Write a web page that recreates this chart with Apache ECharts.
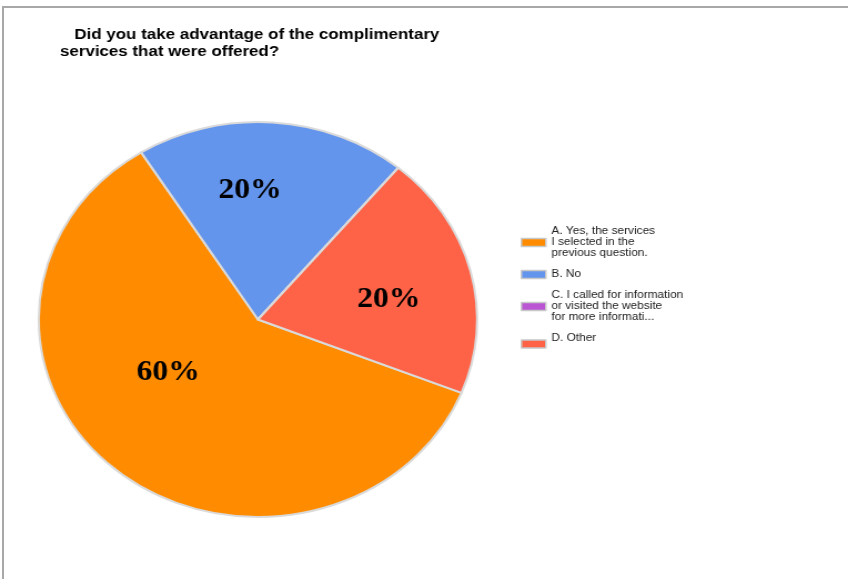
<!DOCTYPE html>
<html>
<head>
<meta charset="utf-8">
<script src="https://cdn.jsdelivr.net/npm/echarts@6/dist/echarts.min.js"></script>
<style>
  html, body { margin: 0; padding: 0; background: #fff; }
  body { width: 848px; height: 579px; overflow: hidden; position: relative; }
  #frame {
    position: absolute; left: 2px; top: 6px; right: -4px; bottom: -4px;
    border-top: 2px solid #a8a8a8; border-left: 2px solid #a8a8a8;
  }
  /* the survey chart is laid out on a narrower page and widened to fill the frame */
  #chart {
    position: absolute; left: 0; top: 0;
    width: 764px; height: 579px;
    transform: scaleX(1.11); transform-origin: 0 0;
  }
</style>
</head>
<body>
<div id="frame"></div>
<div id="chart"></div>
<script>
// Survey answers
const titleLines = [
  'Did you take advantage of the complimentary',
  'services that were offered?'
];
const categories = [
  'A. Yes, the services\nI selected in the\nprevious question.',
  'B. No',
  'C. I called for information\nor visited the website\nfor more informati...',
  'D. Other\n'
];
const shares = [60, 20, 0, 20];
const sliceColors = ['#FF8C00', '#6495ED', '#BA55D3', '#FF6347'];

// pie geometry (pre-widening coordinates)
const CX = 232.4, CY = 319.5, R = 197.5;
// per-slice label placement: angular nudge (deg) and distance as fraction of radius
const labelNudge = [16.8, -7, 0, 4.4];
const labelDist = [0.49, 0.655, 0.5, 0.605];

const chart = echarts.init(document.getElementById('chart'), null, {
  renderer: 'canvas', width: 764, height: 579
});

const titleStyle = { fontFamily: 'Liberation Sans', fontSize: 15.25, fontWeight: 'bold', color: '#000', lineHeight: 18 };

chart.setOption({
  animation: false,
  backgroundColor: 'transparent',
  title: [
    { text: titleLines[0], left: 67, top: 25.5, padding: 0, textStyle: titleStyle },
    { text: titleLines[1], left: 54, top: 43, padding: 0, textStyle: titleStyle }
  ],
  legend: {
    orient: 'vertical', left: 469, top: 226, padding: 0,
    itemGap: 10, itemWidth: 22, itemHeight: 8, icon: 'rect',
    selectedMode: false,
    itemStyle: { borderColor: '#c8c8c8', borderWidth: 1.5 },
    textStyle: { fontFamily: 'Liberation Sans', fontSize: 10.7, lineHeight: 11, color: '#222' },
    data: categories
  },
  series: [{
    type: 'pie',
    center: [CX, CY],
    radius: R,
    startAngle: -21.8,
    clockwise: true,
    silent: true,
    avoidLabelOverlap: false,
    color: sliceColors,
    itemStyle: { borderColor: '#dadada', borderWidth: 2 },
    label: {
      show: true, position: 'inside',
      formatter: p => (p.value ? p.percent + '%' : ''),
      fontFamily: 'Liberation Serif', fontWeight: 'bold', fontSize: 28.5, color: '#000'
    },
    labelLine: { show: false },
    labelLayout: function (params) {
      const i = params.dataIndex;
      const lr = params.labelRect;
      const dx = lr.x + lr.width / 2 - CX;
      const dy = lr.y + lr.height / 2 - CY;
      const ang = Math.atan2(dx, -dy) + labelNudge[i] * Math.PI / 180;
      const d = labelDist[i] * R;
      return { x: CX + d * Math.sin(ang), y: CY - d * Math.cos(ang) };
    },
    emphasis: { disabled: true },
    data: categories.map((name, i) => ({ name: name, value: shares[i] }))
  }]
});
</script>
</body>
</html>
